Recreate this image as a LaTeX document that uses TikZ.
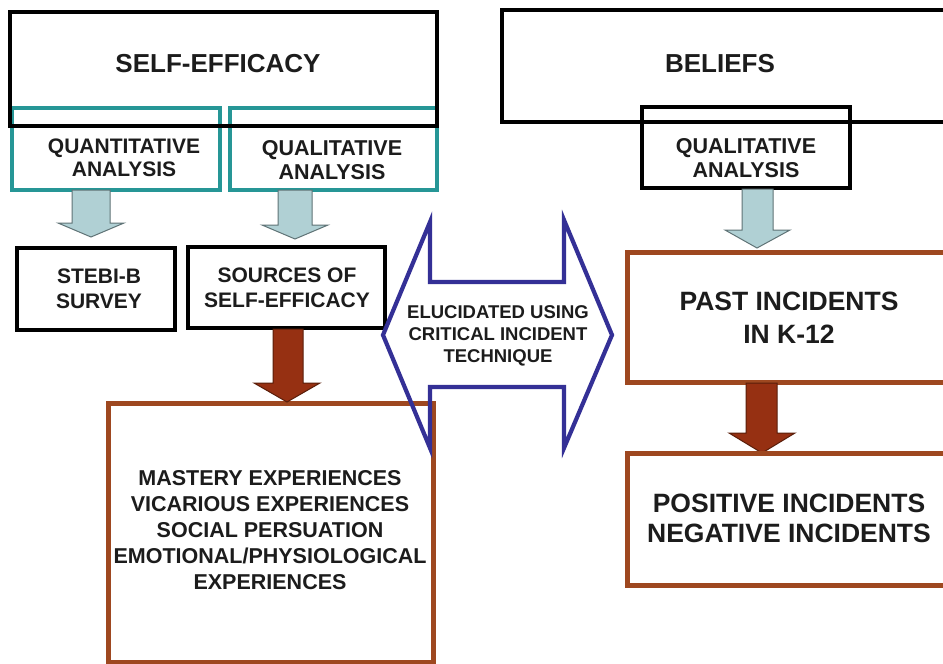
\documentclass[tikz,border=0pt]{standalone}
\usepackage{fontspec}
\setmainfont{Liberation Sans}
\definecolor{tealc}{RGB}{38,150,150}
\definecolor{brownc}{RGB}{158,72,32}
\definecolor{bluec}{RGB}{52,48,150}
\definecolor{lblue}{RGB}{176,208,212}
\definecolor{lbluedraw}{RGB}{95,115,118}
\definecolor{rust}{RGB}{150,48,18}
\definecolor{rustdraw}{RGB}{90,30,10}
\definecolor{txt}{RGB}{28,28,28}
\tikzset{
  blackbox/.style={draw=black, line width=4.5pt, inner sep=0pt},
  tealbox/.style={draw=tealc, line width=4pt, inner sep=0pt},
  brownbox/.style={draw=brownc, line width=5pt, inner sep=0pt},
  lbl/.style={text=txt, font=\bfseries, align=center, inner sep=0pt},
  lbarrow/.style={fill=lblue, draw=lbluedraw, line width=1pt, line join=miter},
  brarrow/.style={fill=rust, draw=rustdraw, line width=1pt, line join=miter},
  dblarrow/.style={draw=bluec, line width=4.2pt, line join=miter}
}
\begin{document}
\begin{tikzpicture}[x=1pt,y=-1pt]
\useasboundingbox (0,0) rectangle (943,664);
\clip (0,0) rectangle (943,664);
\fill[white] (0,0) rectangle (943,664);

% ---------- left column ----------
\node[tealbox, minimum width=208pt, minimum height=82pt] (quant) at (116,149) {};
\node[tealbox, minimum width=207pt, minimum height=82pt] (qual) at (333.5,149) {};
\node[blackbox, minimum width=427pt, minimum height=114pt] (se) at (223.5,69) {};
\node[lbl, font=\bfseries\fontsize{26}{30}\selectfont] (seT) at (218,64) {SELF-EFFICACY};
\node[lbl, font=\bfseries\fontsize{21}{23}\selectfont] (quantT) at (124,158) {QUANTITATIVE\\ANALYSIS};
\node[lbl, font=\bfseries\fontsize{21.5}{24}\selectfont] (qualT) at (332,160) {QUALITATIVE\\ANALYSIS};

\node[blackbox, minimum width=158pt, minimum height=82pt] (stebi) at (96,289) {};
\node[lbl, font=\bfseries\fontsize{21}{25}\selectfont] (stebiT) at (99,289) {STEBI-B\\SURVEY};
\node[blackbox, minimum width=197pt, minimum height=81pt] (src) at (286.5,287.5) {};
\node[lbl, font=\bfseries\fontsize{21}{25}\selectfont] (srcT) at (287,288) {SOURCES OF\\SELF-EFFICACY};

\node[brownbox, minimum width=325pt, minimum height=259pt] (mast) at (270.5,532.5) {};
\node[lbl, font=\bfseries\fontsize{21.5}{26}\selectfont] (mastT) at (270,530)
  {MASTERY EXPERIENCES\\VICARIOUS EXPERIENCES\\SOCIAL PERSUATION\\EMOTIONAL/PHYSIOLOGICAL\\EXPERIENCES};

% light blue block arrows
\path[lbarrow] (72,190) -- (110,190) -- (110,223) -- (124,223) -- (91,237)
  -- (58,223) -- (72,223) -- cycle;
\path[lbarrow] (278,190) -- (312,190) -- (312,225) -- (328,225) -- (295,239)
  -- (262,225) -- (278,225) -- cycle;
% brown block arrow
\path[brarrow] (273,329) -- (303,329) -- (303,383) -- (320,383) -- (287,402)
  -- (254,383) -- (273,383) -- cycle;

% ---------- right column ----------
\node[blackbox, minimum width=460pt, minimum height=112pt] (bel) at (732,66) {};
\node[lbl, font=\bfseries\fontsize{26}{30}\selectfont] (belT) at (720,64) {BELIEFS};
\node[blackbox, minimum width=208pt, minimum height=81pt] (qualb) at (746,147.5) {};
\node[lbl, font=\bfseries\fontsize{21.5}{24}\selectfont] (qualbT) at (746,158) {QUALITATIVE\\ANALYSIS};

\path[lbarrow] (742,189) -- (773,189) -- (773,230) -- (790,230) -- (757,248)
  -- (725,230) -- (742,230) -- cycle;

\node[brownbox, minimum width=340pt, minimum height=130pt] (past) at (797,317) {};
\node[lbl, font=\bfseries\fontsize{26.5}{33}\selectfont] (pastT) at (789,318) {PAST INCIDENTS\\IN K-12};

\path[brarrow] (746,383) -- (777,383) -- (777,433) -- (795,433) -- (762,453)
  -- (729,433) -- (746,433) -- cycle;

\node[brownbox, minimum width=340pt, minimum height=132pt] (pos) at (797,519) {};
\node[lbl, font=\bfseries\fontsize{26.5}{30}\selectfont] (posT) at (789,518) {POSITIVE INCIDENTS\\NEGATIVE INCIDENTS};

% ---------- double arrow ----------
\draw[dblarrow] (383,335) -- (430,222) -- (430,282) -- (564,282) -- (564,220)
  -- (612,335) -- (564,448) -- (564,387) -- (430,387) -- (430,448) -- cycle;
\node[lbl, font=\bfseries\fontsize{18.5}{22}\selectfont] (eluT) at (498,336)
  {ELUCIDATED USING\\CRITICAL INCIDENT\\TECHNIQUE};
\end{tikzpicture}
\end{document}
